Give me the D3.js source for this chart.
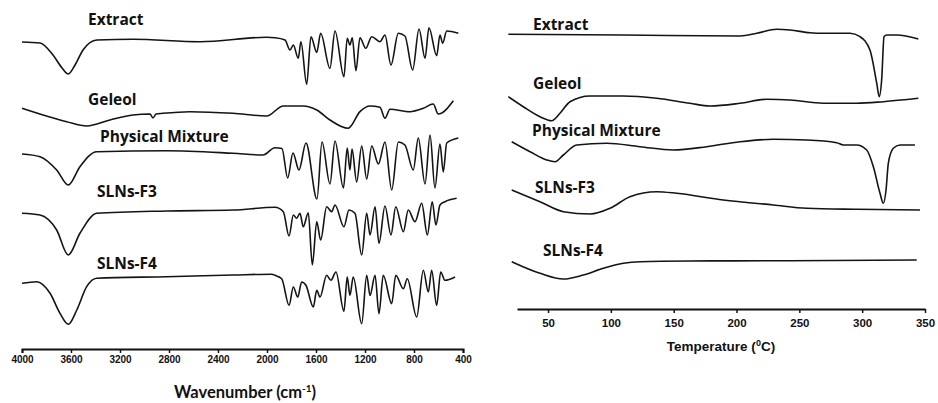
<!DOCTYPE html>
<html>
<head>
<meta charset="utf-8">
<script src="https://cdn.jsdelivr.net/npm/d3@7"></script>
<style>
  body { margin: 0; background: #fff; }
  .lbl { font-family: "Open Sans", Lato, sans-serif; font-weight: 700; font-size: 15.5px; fill: #111; }
  .ttl { font-family: Lato, "Open Sans", sans-serif; font-weight: 700; font-size: 16.5px; fill: #111; }
  .tick text { font-family: "Liberation Sans", Arial, sans-serif; font-weight: 700; fill: #111; }
</style>
</head>
<body>
<div id="chart"></div>
<script>
// FTIR spectra: [wavenumber (cm-1), stacked transmittance (a.u.)]
const ftir_extract = [[4000,307],[3853,306],[3747,294],[3673,281],[3622,275],[3567,284],[3502,299],[3388,309],[3094,309.7],[2547,307.3],[2003,311.7],[1935,311.3],[1853,309],[1812,299],[1785,304],[1745,290.7],[1723,307.3],[1676,264.7],[1641,312.3],[1594,296.7],[1562,315.7],[1486,280.7],[1445,318],[1372,272.3],[1345,310.7],[1323,304],[1304,311.3],[1274,278.3],[1241,311.3],[1194,300.7],[1145,312.3],[1078,307.3],[1037,314],[988,284],[928,315.7],[874,313],[811,279],[759,320],[710,290.7],[678,321.3],[615,293.3],[588,314],[566,305.7],[533,318],[438,315.7]];
const ftir_geleol = [[4000,240.7],[3635,227.3],[3472,223],[3282,229],[3094,234],[2955,235],[2931,231],[2906,235],[2849,235.7],[2629,237.3],[2278,235.7],[2003,233],[1867,243],[1706,243],[1594,239],[1486,229],[1337,220.7],[1241,237.3],[1159,243],[1078,241.7],[1037,230.7],[996,239.7],[833,237.3],[724,240.7],[643,245],[602,235],[479,248.3]];
const ftir_mixture = [[4000,195],[3853,192.3],[3717,179],[3622,164],[3527,182.3],[3390,197.3],[2819,198.3],[2278,195.7],[2033,194],[1935,201.3],[1878,200.5],[1831,171],[1788,196],[1739,179],[1682,206],[1592,150],[1551,207],[1486,165],[1445,208],[1376,161],[1345,201],[1323,179],[1306,200],[1268,167],[1227,203],[1186,170],[1145,203],[1091,185],[1037,207],[982,159],[928,207],[874,204],[806,179],[765,211],[710,165],[669,214],[629,161],[588,205],[561,177],[533,206],[438,211]];
const ftir_f3 = [[4000,135.7],[3853,134],[3717,119],[3622,94],[3527,115.7],[3390,135.7],[2819,138],[2275,139],[1935,141.7],[1867,137.3],[1820,113],[1785,134],[1758,130.7],[1731,135.7],[1704,122.3],[1663,136.3],[1630,84],[1594,127.3],[1562,109],[1513,142.3],[1472,137.3],[1445,144],[1372,122.3],[1331,139],[1282,135.7],[1227,94],[1186,135.7],[1159,114],[1118,142.3],[1086,105.7],[1037,143],[988,114],[949,142.3],[887,117.3],[847,139],[792,127.3],[737,145.7],[691,114],[651,147.3],[621,124],[588,144],[547,147.3],[452,150.7]];
const ftir_f4 = [[4000,65.7],[3880,67.3],[3771,55.7],[3690,35.7],[3622,24.7],[3553,39],[3472,62.3],[3390,70.7],[2819,72.3],[2275,74],[1960,74.8],[1935,73.7],[1880,70.3],[1820,43.7],[1785,62],[1749,52],[1717,67],[1682,63.7],[1622,42],[1594,58.7],[1567,52],[1513,73.7],[1478,68.7],[1437,77],[1372,37.7],[1345,72],[1323,53.7],[1296,72],[1227,25.3],[1186,73.7],[1159,53.7],[1118,73.7],[1086,35.3],[1051,73.7],[982,45.3],[949,73.7],[887,60.3],[855,70.3],[778,32],[724,78.7],[683,57],[656,78.7],[615,43.7],[582,77],[547,68.7],[465,72]];

// DSC thermograms: [temperature (C), stacked heat flow (a.u.)]
const dsc_extract = [[18.4,274.7],[109.9,274],[202.8,273],[216.1,275.7],[232,279.7],[242.6,279],[258.5,276.3],[269.1,275.7],[290.3,275.7],[298.3,272.3],[306.2,259],[311.6,225.7],[313.6,212.3],[315.5,229],[317.4,272.3],[319.5,274],[327.5,274],[344.7,270]];
const dsc_geleol = [[18.4,212.3],[30.3,202.3],[43.6,192.3],[52.9,188.3],[59.5,195.7],[67.5,207.3],[83.4,213],[109.9,213],[136.5,210.7],[163,205.7],[178.9,203],[202.8,205.7],[224,209.7],[242.6,209],[269.1,205.7],[295.6,205.7],[316.8,207.3],[344.7,210.7]];
const dsc_mixture = [[21.1,167.3],[35.7,157.3],[49,149],[55.6,147.3],[62.2,154],[72.8,164],[96.7,165.7],[123.2,162.3],[149.7,159],[176.3,162.3],[202.8,167.3],[229.3,169.7],[255.9,169],[279.7,166.3],[285,164],[295.6,164],[303.6,159],[308.9,142.3],[314.2,115.7],[316.8,105.7],[319,119],[320.8,145.7],[324.8,160.7],[330.1,164],[342,164]];
const dsc_f3 = [[21.1,119],[43.6,107.3],[62.2,97.3],[83.4,95],[99.3,100.7],[115.2,112.3],[136.5,117.3],[152.4,115.7],[189.5,109],[229.3,104],[255.9,100.7],[295.6,99.7],[346,99]];
const dsc_f4 = [[21.1,47.3],[43.6,35.7],[62.2,30],[78.1,34],[94,40.7],[109.9,45.7],[123.2,47.3],[163,48],[242.6,48.3],[343.4,49]];

const sample_names = ["Extract", "Geleol", "Physical Mixture", "SLNs-F3", "SLNs-F4"];
const ftir_series = [ftir_extract, ftir_geleol, ftir_mixture, ftir_f3, ftir_f4];
const dsc_series = [dsc_extract, dsc_geleol, dsc_mixture, dsc_f3, dsc_f4];
const ftir_ticks = [4000, 3600, 3200, 2800, 2400, 2000, 1600, 1200, 800, 400];
const dsc_ticks = [50, 100, 150, 200, 250, 300, 350];

const width = 938, height = 403;

const svg = d3.select("#chart")
    .append("svg")
    .attr("width", width)
    .attr("height", height);

// ---------- left panel: FTIR ----------
const ftir_x = d3.scaleLinear().domain([4000, 400]).range([22, 463]);
const ftir_y = d3.scaleLinear().domain([0, 340]).range([349, 9]);

const ftir_line = d3.line()
    .curve(d3.curveMonotoneX)
    .x(d => ftir_x(d[0]))
    .y(d => ftir_y(d[1]));

svg.append("g").selectAll("path")
    .data(ftir_series)
    .join("path")
    .attr("d", ftir_line)
    .attr("fill", "none")
    .attr("stroke", "#141414")
    .attr("stroke-width", 1.6);

const ftir_axis = svg.append("g")
    .attr("transform", "translate(0,349)")
    .call(d3.axisBottom(ftir_x).tickValues(ftir_ticks).tickFormat(d3.format("d"))
        .tickSize(4).tickSizeOuter(4).tickPadding(3));
ftir_axis.select(".domain").attr("stroke", "#111").attr("stroke-width", 2);
ftir_axis.selectAll(".tick line").attr("stroke", "#111").attr("stroke-width", 1.5);
ftir_axis.selectAll(".tick text").style("font-size", "10px");

const ftir_lbl_x = [88, 88, 100, 97, 97];
const ftir_lbl_y = [25, 105, 142, 197, 269];
svg.append("g").selectAll("text")
    .data(sample_names)
    .join("text")
    .attr("class", "lbl")
    .attr("x", (d, i) => ftir_lbl_x[i])
    .attr("y", (d, i) => ftir_lbl_y[i])
    .text(d => d);

const ftir_title = svg.append("text")
    .attr("class", "ttl")
    .attr("x", 245)
    .attr("y", 398)
    .attr("text-anchor", "middle");
ftir_title.append("tspan").text("Wavenumber (cm");
ftir_title.append("tspan").attr("dy", -6).style("font-size", "10px").text("-1");
ftir_title.append("tspan").attr("dy", 6).text(")");

// ---------- right panel: DSC ----------
const dsc_x = d3.scaleLinear().domain([25.3, 350]).range([517, 925]);
const dsc_y = d3.scaleLinear().domain([0, 300]).range([309, 9]);

const dsc_line = d3.line()
    .curve(d3.curveMonotoneX)
    .x(d => dsc_x(d[0]))
    .y(d => dsc_y(d[1]));

svg.append("g").selectAll("path")
    .data(dsc_series)
    .join("path")
    .attr("d", dsc_line)
    .attr("fill", "none")
    .attr("stroke", "#141414")
    .attr("stroke-width", 1.6);

const dsc_axis = svg.append("g")
    .attr("transform", "translate(0,309)")
    .call(d3.axisBottom(dsc_x).tickValues(dsc_ticks).tickSize(4).tickSizeOuter(0).tickPadding(6));
dsc_axis.select(".domain").attr("stroke", "#111").attr("stroke-width", 2);
dsc_axis.selectAll(".tick line").attr("stroke", "#111").attr("stroke-width", 1.5);
dsc_axis.selectAll(".tick text").style("font-size", "11.5px");

const dsc_lbl_x = [533, 533, 532, 535, 543];
const dsc_lbl_y = [30, 89, 136, 193, 256];
svg.append("g").selectAll("text")
    .data(sample_names)
    .join("text")
    .attr("class", "lbl")
    .attr("x", (d, i) => dsc_lbl_x[i])
    .attr("y", (d, i) => dsc_lbl_y[i])
    .text(d => d);

const dsc_title = svg.append("text")
    .attr("x", 721)
    .attr("y", 351)
    .attr("text-anchor", "middle")
    .style("font-family", "'Liberation Sans', Arial, sans-serif")
    .style("font-weight", 700)
    .style("font-size", "13.5px")
    .attr("fill", "#111");
dsc_title.append("tspan").text("Temperature (");
dsc_title.append("tspan").attr("dy", -5).style("font-size", "9px").text("0");
dsc_title.append("tspan").attr("dy", 5).text("C)");
</script>
</body>
</html>
